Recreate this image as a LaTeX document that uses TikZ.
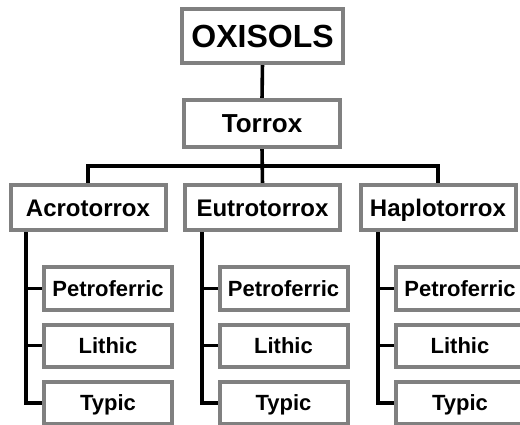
\documentclass[tikz,border=0pt]{standalone}
\usepackage{fontspec}
\setmainfont{Liberation Sans}
\usetikzlibrary{backgrounds}
\definecolor{boxgray}{RGB}{128,128,128}
\begin{document}
\begin{tikzpicture}[x=1pt,y=-1pt,
  box/.style={draw=boxgray, line width=4pt, fill=white, inner sep=0pt, outer sep=0pt,
    text=black, text depth=0pt, align=center},
  topbox/.style={box, minimum width=161pt, minimum height=54pt, text height=22.9pt, font=\fontsize{32}{36}\bfseries\selectfont},
  subbox/.style={box, minimum width=156pt, minimum height=47pt, text height=18.6pt, font=\fontsize{26}{30}\bfseries\selectfont},
  grpbox/.style={box, minimum width=155pt, minimum height=45pt, text height=17.2pt, font=\fontsize{24}{28}\bfseries\selectfont},
  leafbox/.style={box, minimum width=128pt, minimum height=42pt, text height=15.75pt, font=\fontsize{22}{26}\bfseries\selectfont},
  conn/.style={draw=black, line width=3.6pt}]
\useasboundingbox (0,0) rectangle (520,425);

\node[topbox] (ox) at (262.5,36) {OXISOLS};
\node[subbox] (tor) at (262,123.5) {Torrox};
\node[grpbox] (acro) at (88,207.5) {Acrotorrox};
\node[grpbox] (eut) at (262.5,207.5) {Eutrotorrox};
\node[grpbox] (hap) at (438,207.5) {Haplotorrox};

\node[leafbox, minimum height=43pt] (p1) at (108,288.5) {Petroferric};
\node[leafbox] (l1) at (108,345.5) {Lithic};
\node[leafbox] (t1) at (108,403) {Typic};
\node[leafbox, minimum height=43pt] (p2) at (283.5,288.5) {Petroferric};
\node[leafbox] (l2) at (283.5,345.5) {Lithic};
\node[leafbox] (t2) at (283.5,403) {Typic};
\node[leafbox, minimum height=43pt] (p3) at (460,288.5) {Petroferric};
\node[leafbox] (l3) at (460,345.5) {Lithic};
\node[leafbox] (t3) at (460,403) {Typic};

\coordinate (bus) at (262,166);
\coordinate (k1) at (26,228);
\coordinate (k2) at (202,228);
\coordinate (k3) at (378,228);

\begin{scope}[on background layer]
\draw[conn] (ox.south) -- (tor.north);
\draw[conn] (tor.south) -- (eut.north);
\draw[conn] (acro.north) |- (bus) -| (hap.north);
\foreach \i in {1,2,3}{
  \draw[conn] (k\i) |- (t\i.west);
  \draw[conn] (p\i.west) -- (p\i.west -| k\i);
  \draw[conn] (l\i.west) -- (l\i.west -| k\i);
}
\end{scope}
\end{tikzpicture}
\end{document}
